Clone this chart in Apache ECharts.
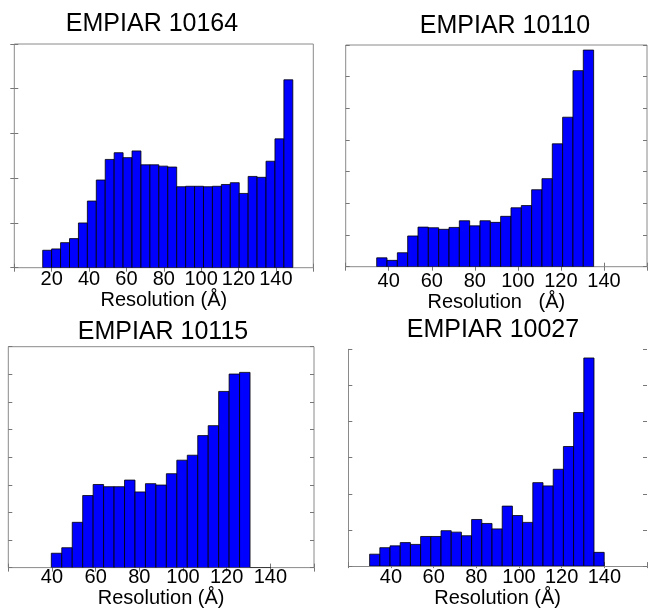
<!DOCTYPE html>
<html><head><meta charset="utf-8">
<script src="https://cdn.jsdelivr.net/npm/echarts@6/dist/echarts.min.js"></script>
<style>html,body{margin:0;padding:0;background:#fff}#c{width:650px;height:609px}</style>
</head><body><div id="c"></div>
<script>
// ---- data ----
const titles = ['EMPIAR 10164', 'EMPIAR 10110', 'EMPIAR 10115', 'EMPIAR 10027'];
const xNames = ['Resolution (Å)', 'Resolution   (Å)', 'Resolution (Å)', 'Resolution (Å)'];
const binStart = [15.2, 34.4, 39.7, 30.0];
const binWidth = [4.78, 4.8, 4.79, 4.78];
const counts10164 = [39, 42, 56, 65, 100, 149, 196, 242, 257, 246, 261, 230, 230, 227, 225, 181, 182, 182, 181, 182, 186, 190, 166, 204, 202, 238, 288, 420];
const counts10110 = [28, 20, 44, 97, 125, 123, 118, 124, 145, 129, 145, 140, 159, 186, 193, 243, 278, 388, 472, 619, 684];
const counts10115 = [52, 72, 164, 261, 301, 293, 293, 317, 274, 304, 299, 340, 389, 407, 478, 514, 638, 701, 707, 0, 0];
const counts10027 = [33, 51, 56, 65, 60, 82, 82, 98, 94, 84, 129, 118, 103, 166, 140, 121, 231, 222, 268, 331, 425, 576, 38];
const xTickLabels = [
  [20, 40, 60, 80, 100, 120, 140],
  [40, 60, 80, 100, 120, 140],
  [40, 60, 80, 100, 120, 140],
  [40, 60, 80, 100, 120, 140]
];
const xMin = [0, 20, 20, 20];
const xMax = [160, 160, 160, 160];
const yMax = [500, 700, 800, 600];
const allCounts = [counts10164, counts10110, counts10115, counts10027];

// ---- layout ----
const grids = [
  {left: 14.3, top: 44, width: 299, height: 223.7},
  {left: 345.7, top: 45, width: 307, height: 221.7},
  {left: 8.3, top: 346.7, width: 305.7, height: 225.6},
  {left: 348.3, top: 349.3, width: 303.3, height: 221.4}
];
const titlePos = [[152, 24.5], [505, 26], [163, 332], [493, 330.5]];
const labelMargin = [2, 4.5, -0.5, 1];
const nameGap = [20.5, 23.5, 18, 19.5];
const FONT = 'Liberation Sans, Arial, sans-serif';
const frameColor = '#8a8a8a';

function renderItem(params, api) {
  const p0 = api.coord([api.value(0), api.value(2)]);
  const p1 = api.coord([api.value(1), 0]);
  return {
    type: 'rect',
    shape: {x: p0[0], y: p0[1], width: p1[0] - p0[0], height: p1[1] - p0[1]},
    style: {fill: '#0000ff', stroke: '#000000', lineWidth: 0.8}
  };
}

const option = {
  animation: false,
  backgroundColor: '#ffffff',
  grid: grids.map((g, i) => Object.assign({
    show: i !== 3, borderColor: frameColor, borderWidth: 1, backgroundColor: 'transparent'
  }, g)),
  xAxis: [],
  yAxis: [],
  series: [],
  graphic: titles.map((t, i) => ({
    type: 'text', x: titlePos[i][0], y: titlePos[i][1],
    style: {text: t, align: 'center', verticalAlign: 'middle', fill: '#000', font: '25px ' + FONT}
  }))
};

for (let i = 0; i < 4; i++) {
  const labels = xTickLabels[i];
  option.xAxis.push({
    gridIndex: i, type: 'value', position: 'bottom', min: xMin[i], max: xMax[i], interval: 20,
    axisLine: {show: i === 3, onZero: false, lineStyle: {color: frameColor}},
    axisTick: {show: true, inside: true, length: 4, lineStyle: {color: '#777'}},
    splitLine: {show: false},
    axisLabel: {
      margin: labelMargin[i], color: '#000', fontSize: 20, fontFamily: FONT,
      formatter: v => labels.indexOf(v) >= 0 ? String(v) : ''
    },
    name: xNames[i], nameLocation: 'middle', nameGap: nameGap[i],
    nameTextStyle: {color: '#000', fontSize: 20, fontFamily: FONT}
  });
  option.xAxis.push({
    gridIndex: i, type: 'value', position: 'top', min: xMin[i], max: xMax[i], interval: 20,
    axisLine: {show: false},
    axisTick: {show: true, inside: true, length: i === 3 ? 2 : 4, lineStyle: {color: '#777'}},
    splitLine: {show: false}, axisLabel: {show: false}
  });
  option.yAxis.push({
    gridIndex: i, type: 'value', position: 'left', min: 0, max: yMax[i], interval: 100,
    axisLine: {show: i === 3, onZero: false, lineStyle: {color: frameColor}},
    axisTick: {show: true, inside: true, length: 4, lineStyle: {color: '#777'}},
    splitLine: {show: false}, axisLabel: {show: false}
  });
  option.yAxis.push({
    gridIndex: i, type: 'value', position: 'right', min: 0, max: yMax[i], interval: 100,
    axisLine: {show: false},
    axisTick: {show: true, inside: true, length: 4, lineStyle: {color: '#777'}},
    splitLine: {show: false}, axisLabel: {show: false}
  });
  const s = binStart[i], w = binWidth[i];
  option.series.push({
    type: 'custom', xAxisIndex: 2 * i, yAxisIndex: 2 * i,
    renderItem: renderItem,
    encode: {x: [0, 1], y: 2},
    clip: true,
    data: allCounts[i].map((v, k) => [s + k * w, s + (k + 1) * w, v])
  });
}

const chart = echarts.init(document.getElementById('c'), null, {renderer: 'canvas'});
chart.setOption(option);
</script>
</body></html>
